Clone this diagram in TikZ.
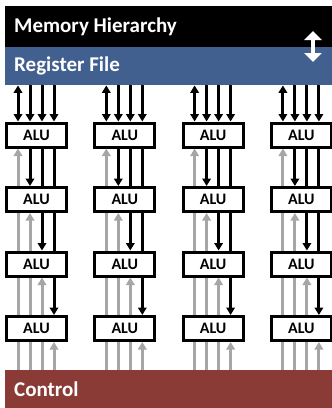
\documentclass[tikz,border=0pt]{standalone}
\usepackage{fontspec}
\setmainfont{Carlito}
\usetikzlibrary{arrows.meta}
\definecolor{regblue}{RGB}{65,96,143}
\definecolor{ctrlred}{RGB}{139,59,54}
\definecolor{wiregrey}{RGB}{166,166,166}
\newcommand{\bartext}[1]{\makebox[309pt][l]{#1}}
\tikzstyle{bar} = [
    rectangle,
    anchor=north west,
    inner xsep=9pt,
    minimum width=327pt,
    text=white,
    font=\bfseries\fontsize{21}{25}\selectfont
]
\tikzstyle{alu} = [
    rectangle,
    minimum width=60pt,
    minimum height=24pt,
    line width=3pt,
    draw=black,
    fill=white,
    font=\bfseries\fontsize{16}{19}\selectfont
]
\tikzstyle{tip} = [>={Triangle[width=8.5pt,length=7.5pt]}]
\tikzstyle{bline} = [line width=3pt, black]
\tikzstyle{gline} = [line width=3pt, wiregrey]
\tikzstyle{bdown} = [bline, tip, ->]
\tikzstyle{gup} = [gline, tip, <-]
\tikzstyle{bup} = [bline, tip, <-]
\tikzstyle{bboth} = [bline, tip, <->]

\begin{document}
\begin{tikzpicture}[x=1pt, y=-1pt]
\useasboundingbox (0,0) rectangle (332,408);

\node (mem) [bar, fill=black, minimum height=41pt] at (5,6) {\bartext{Memory Hierarchy}};
\node (reg) [bar, fill=regblue, minimum height=38pt] at (5,47) {\bartext{Register File}};
\node (ctrl) [bar, fill=ctrlred, minimum height=38pt] at (5,370) {\bartext{Control}};

% transfer between memory and registers
\coordinate (xfertop) at (313,31);
\coordinate (xferbot) at (313,62);
\draw [white, line width=4.5pt, {Triangle[width=17pt,length=9pt]}-{Triangle[width=17pt,length=9pt]}]
    (xfertop) -- (xferbot);

% ALU grid
\foreach \r in {1,...,4}
  \foreach \c in {1,...,4}
    \node (a\r\c) [alu] at ({36.5+88.3*(\c-1)},{135+64.5*(\r-1)}) {ALU};

\foreach \c in {1,...,4} {
  % register file to first row
  \draw [bboth] ([xshift=-18.5pt]a1\c.north) -- ([xshift=-18.5pt]a1\c.north |- reg.south);
  \foreach \dx in {-6.5,5.5,17.5}
    \draw [bup] ([xshift=\dx pt]a1\c.north) -- ([xshift=\dx pt]a1\c.north |- reg.south);
  % between rows
  \foreach \dx/\st in {-18.5/gup, -6.5/bdown, 5.5/bline, 17.5/bline}
    \draw [\st] ([xshift=\dx pt]a1\c.south) -- ([xshift=\dx pt]a2\c.north);
  \foreach \dx/\st in {-18.5/gline, -6.5/gup, 5.5/bdown, 17.5/bline}
    \draw [\st] ([xshift=\dx pt]a2\c.south) -- ([xshift=\dx pt]a3\c.north);
  \foreach \dx/\st in {-18.5/gline, -6.5/gline, 5.5/gup, 17.5/bdown}
    \draw [\st] ([xshift=\dx pt]a3\c.south) -- ([xshift=\dx pt]a4\c.north);
  % last row to control
  \foreach \dx/\st in {-18.5/gline, -6.5/gline, 5.5/gline, 17.5/gup}
    \draw [\st] ([xshift=\dx pt]a4\c.south) -- ([xshift=\dx pt]a4\c.south |- ctrl.north);
}

\end{tikzpicture}
\end{document}
